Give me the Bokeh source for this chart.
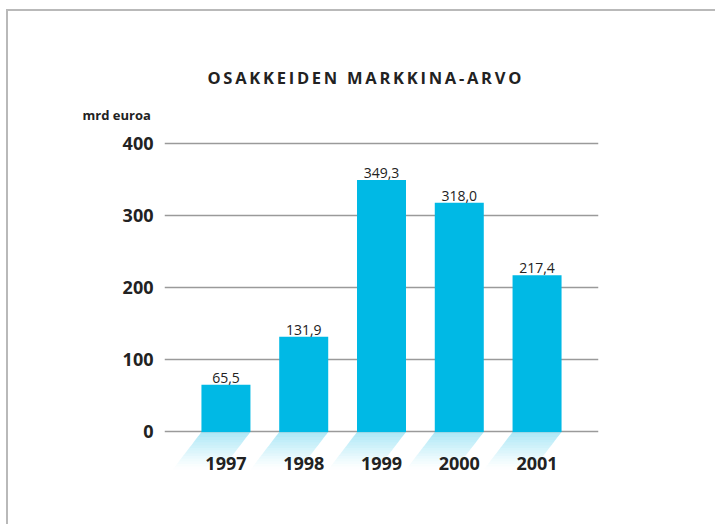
import numpy as np
from bokeh.plotting import figure
from bokeh.models import Range1d, FixedTicker, Title, ColumnDataSource, LabelSet
from bokeh.core.properties import value
from bokeh.embed import file_html
from bokeh.resources import INLINE

# ---- data ----
years = ["1997", "1998", "1999", "2000", "2001"]
values = [65.5, 131.9, 349.3, 318.0, 217.4]
value_labels = ["65,5", "131,9", "349,3", "318,0", "217,4"]
y_ticks = [0, 100, 200, 300, 400]
title_text = "OSAKKEIDEN MARKKINA-ARVO"
unit_text = "mrd euroa"

BAR = "#00B9E5"
TXT = "#222222"
FONT = "Open Sans"
FRAME = "#b9b9b9"

idx = list(range(len(years)))

p = figure(width=715, height=524, output_backend="svg", toolbar_location=None,
           x_range=Range1d(-0.79, 4.79), y_range=Range1d(-53.4, 420.8),
           min_border_left=164, min_border_right=117, min_border_top=128,
           min_border_bottom=54, outline_line_color=None,
           border_fill_color=None, background_fill_color=None)
p.styles = {
    "background": (f"linear-gradient({FRAME},{FRAME}) 6px 9px / 2px 100% no-repeat, "
                   f"linear-gradient({FRAME},{FRAME}) 6px 9px / 100% 2px no-repeat, white"),
}

# titles
p.title = Title(text="\u2009".join(list(title_text)), align="left", offset=43,
                text_font=FONT, text_font_size="16.5px", text_font_style="bold",
                text_color=TXT, standoff=19)
p.add_layout(Title(text=unit_text, align="left", offset=-82, text_font=FONT,
                   text_font_size="13px", text_font_style="bold", text_color=TXT,
                   standoff=10), "above")

# grid
p.xgrid.visible = False
p.ygrid.ticker = FixedTicker(ticks=y_ticks)
p.ygrid.grid_line_color = "#9a9a9a"
p.ygrid.grid_line_width = 1.6

# shadows (gradient via stacked strips)
n = 14
depth = 52.0
shift = 0.37
xs, ys, alphas = [], [], []
for i in idx:
    for k in range(n):
        t0, t1 = k / n, (k + 1) / n
        y0, y1 = -depth * t0, -depth * t1
        l0 = i - 0.315 - shift * t0
        l1 = i - 0.315 - shift * t1
        xs.append([l0, l0 + 0.63, l1 + 0.63, l1])
        ys.append([y0, y0, y1, y1])
        alphas.append(0.34 * (1 - (t0 + t1) / 2) ** 1.2)
p.patches(xs, ys, fill_color=BAR, fill_alpha=alphas, line_color=None)

# bars
src = ColumnDataSource(dict(x=idx, top=values, lab=value_labels))
p.vbar(x="x", top="top", width=0.63, source=src, fill_color=BAR, line_color=None)
p.add_layout(LabelSet(x="x", y="top", text="lab", source=src, text_align="center",
                      text_baseline="bottom", y_offset=2, text_font=value(FONT),
                      text_font_size=value("14px"), text_color=TXT))

# axes
p.yaxis.ticker = FixedTicker(ticks=y_ticks)
p.yaxis.axis_line_color = None
p.yaxis.major_tick_line_color = None
p.yaxis.minor_tick_line_color = None
p.yaxis.major_tick_out = 0
p.yaxis.major_label_standoff = 11
p.yaxis.major_label_text_font = FONT
p.yaxis.major_label_text_font_size = "18px"
p.yaxis.major_label_text_font_style = "bold"
p.yaxis.major_label_text_color = TXT

p.xaxis.ticker = FixedTicker(ticks=idx)
p.xaxis.major_label_overrides = {i: y for i, y in zip(idx, years)}
p.xaxis.axis_line_color = None
p.xaxis.major_tick_line_color = None
p.xaxis.minor_tick_line_color = None
p.xaxis.major_tick_out = 0
p.xaxis.major_label_standoff = -14
p.xaxis.major_label_text_font = FONT
p.xaxis.major_label_text_font_size = "18px"
p.xaxis.major_label_text_font_style = "bold"
p.xaxis.major_label_text_color = TXT

open("out.html", "w").write(file_html(p, INLINE))
